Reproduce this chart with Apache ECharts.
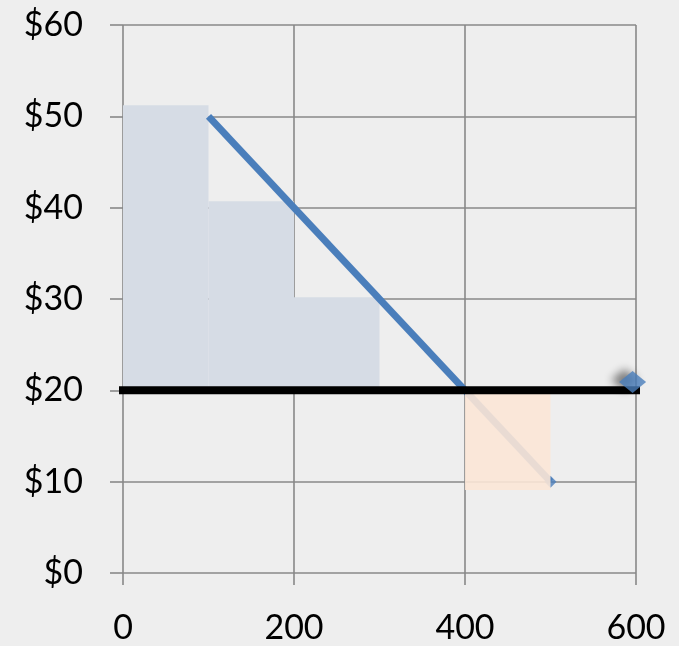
<!DOCTYPE html>
<html><head><meta charset="utf-8">
<script src="https://cdn.jsdelivr.net/npm/echarts@6/dist/echarts.min.js"></script>
<style>html,body{margin:0;padding:0;background:#eeeeee}#c{width:679px;height:646px}</style>
</head><body><div id="c"></div>
<script>
// data
const xTicks = [0, 200, 400, 600];
const yTicks = [0, 10, 20, 30, 40, 50, 60];
// shaded rectangles: [x0, x1, y0, y1]
const surplusRects = [[0, 100, 20, 51.2], [100, 200, 20, 40.7], [200, 300, 20, 30.2]];
const lossRects = [[400, 500, 9.1, 20]];
const demandLine = [[100, 50], [500, 10]];
const priceLine = [[-10, 20], [611, 20]];
const pricePoint = [[596, 20.9]];

const chart = echarts.init(document.getElementById('c'));
const rectRender = (color, opacity) => function (params, api) {
  const p0 = api.coord([api.value(0), api.value(3)]);
  const p1 = api.coord([api.value(1), api.value(2)]);
  return {type: 'rect', shape: {x: p0[0], y: p0[1], width: p1[0] - p0[0], height: p1[1] - p0[1]},
    style: {fill: color, opacity: opacity}};
};
const font = 'Lato';
chart.setOption({
  backgroundColor: '#eeeeee',
  animation: false,
  grid: {left: 123, right: 43, top: 25, bottom: 73},
  xAxis: {type: 'value', min: 0, max: 600, interval: 200,
    axisLine: {show: false},
    axisTick: {show: true, length: 12, lineStyle: {color: '#888888', width: 1.6}},
    splitLine: {show: true, lineStyle: {color: '#888888', width: 1.6}},
    axisLabel: {color: '#000', fontFamily: font, fontSize: 34, margin: 38,
      formatter: v => xTicks.includes(v) ? String(v) : ''}},
  yAxis: {type: 'value', min: 0, max: 60, interval: 10,
    axisLine: {show: false},
    axisTick: {show: true, length: 13, lineStyle: {color: '#888888', width: 1.6}},
    splitLine: {show: true, lineStyle: {color: '#888888', width: 1.6}},
    axisLabel: {color: '#000', fontFamily: font, fontSize: 34, margin: 40,
      formatter: v => yTicks.includes(v) ? '$' + v : ''}},
  series: [
    {type: 'custom', z: 1, data: surplusRects, renderItem: rectRender('#d6dce5', 1), clip: false},
    {type: 'line', z: 2, data: demandLine, symbol: 'none', lineStyle: {color: '#4a7ebb', width: 7}},
    {type: 'scatter', z: 2, data: [demandLine[1]], symbol: 'diamond', symbolSize: 12, itemStyle: {color: '#4a7ebb'}},
    {type: 'custom', z: 3, data: lossRects, renderItem: rectRender('#fbe5d6', 0.9), clip: false},
    {type: 'line', z: 4, data: priceLine, symbol: 'none', clip: false, lineStyle: {color: '#000', width: 8}},
    {type: 'scatter', z: 5, data: pricePoint, symbol: 'diamond', symbolSize: [27, 22], clip: false,
      itemStyle: {color: '#4a7ebb', shadowColor: 'rgba(0,0,0,0.6)', shadowBlur: 8, shadowOffsetX: -8, shadowOffsetY: -2}}
  ]
});
</script></body></html>
